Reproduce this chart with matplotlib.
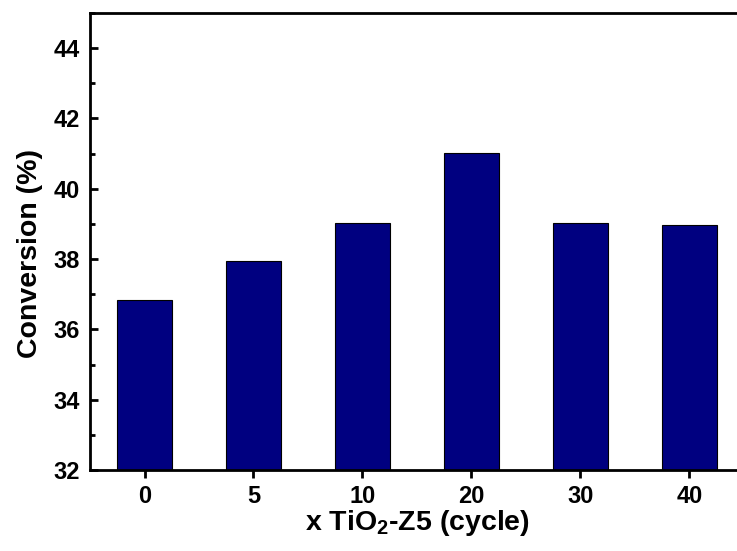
import numpy as np
import matplotlib
matplotlib.use('Agg')
import matplotlib.pyplot as plt
from matplotlib.ticker import MultipleLocator

plt.rcParams['font.family'] = ['Liberation Sans', 'DejaVu Sans']
plt.rcParams['font.weight'] = 'bold'
plt.rcParams['mathtext.fontset'] = 'custom'
plt.rcParams['mathtext.rm'] = 'Liberation Sans:bold'
plt.rcParams['mathtext.bf'] = 'Liberation Sans:bold'
plt.rcParams['mathtext.default'] = 'bf'

# data
cycles = ['0', '5', '10', '20', '30', '40']
conversion = [36.84, 37.95, 39.04, 41.01, 39.04, 38.98]

fig = plt.figure(figsize=(7.37, 5.51), dpi=100)
ax = fig.add_axes([90/737., 81/551., 654/737., 457/551.])

x = np.arange(len(cycles))
ax.bar(x, conversion, width=0.5, color='#000080', edgecolor='black',
       linewidth=0.8, zorder=2)

ax.set_xlim(-0.5, 5.5)
ax.set_ylim(32, 45)
ax.set_xticks(x)
ax.set_xticklabels(cycles)
ax.yaxis.set_major_locator(MultipleLocator(2))
ax.yaxis.set_minor_locator(MultipleLocator(1))

for s in ['left', 'bottom', 'top']:
    ax.spines[s].set_linewidth(2)
ax.spines['right'].set_visible(False)

ax.tick_params(axis='y', which='major', direction='in', length=6, width=2,
               labelsize=17, pad=7)
ax.tick_params(axis='y', which='minor', direction='in', length=3.5, width=2)
ax.tick_params(axis='x', which='major', direction='out', length=5.5, width=2,
               labelsize=17, pad=5)
for t in ax.get_xticklabels() + ax.get_yticklabels():
    t.set_fontweight('bold')

ax.set_ylabel('Conversion (%)', fontsize=20.5, fontweight='bold')
ax.yaxis.set_label_coords(-0.072, 0.474)
ax.set_xlabel('x TiO$_2$-Z5 (cycle)', fontsize=20.5, fontweight='bold', labelpad=0)

plt.savefig('out.png', dpi=100, facecolor='w')
